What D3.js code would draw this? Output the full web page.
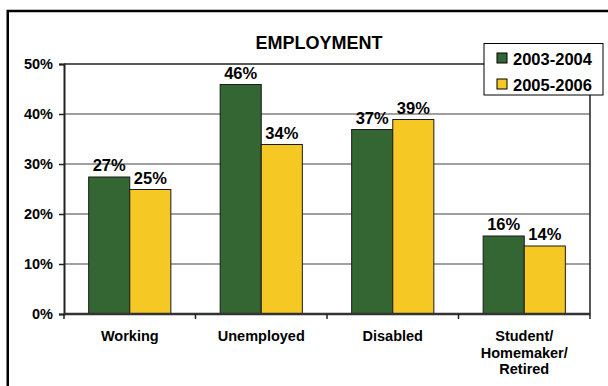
<!DOCTYPE html>
<html>
<head>
<meta charset="utf-8">
<script src="https://cdn.jsdelivr.net/npm/d3@7"></script>
<style>
  html, body { margin: 0; padding: 0; background: #fff; }
  svg { display: block; font-family: "Liberation Sans", Arial, Helvetica, sans-serif; font-weight: bold; }
</style>
</head>
<body>
<svg id="chart" width="608" height="386"></svg>
<script>
// Employment status of respondents, two survey periods (percent)
const categories = ["Working", "Unemployed", "Disabled", "Student/\nHomemaker/\nRetired"];
const seriesNames = ["2003-2004", "2005-2006"];
const values2003 = [27.4, 45.9, 36.9, 15.6];
const values2005 = [24.9, 33.9, 38.9, 13.6];
const yTicks = [0, 10, 20, 30, 40, 50];
const colors = ["#336633", "#F5C823"];

const svg = d3.select("#chart");
const plot = { left: 64, right: 590, top: 64, bottom: 314 };

const x = d3.scaleBand().domain(d3.range(categories.length))
  .range([plot.left, plot.right]).paddingInner(0).paddingOuter(0);
const xs = d3.scaleBand().domain(d3.range(seriesNames.length))
  .range([0, x.bandwidth()]).paddingInner(0).paddingOuter(0.6);
const y = d3.scaleLinear().domain([0, 50]).range([plot.bottom, plot.top]);

// outer frame
svg.append("rect").attr("x", 7.75).attr("y", 11).attr("width", 640).attr("height", 420)
  .attr("fill", "none").attr("stroke", "#000").attr("stroke-width", 2.5);

// title
svg.append("text").attr("x", 319).attr("y", 49).attr("text-anchor", "middle")
  .attr("font-size", 18).attr("fill", "#000").text("EMPLOYMENT");

// horizontal gridlines
svg.append("g").selectAll("line").data(yTicks.filter(t => t > 0 && t < 50)).join("line")
  .attr("x1", plot.left).attr("x2", plot.right)
  .attr("y1", d => y(d)).attr("y2", d => y(d))
  .attr("stroke", "#808080").attr("stroke-width", 1.5);

// plot frame (top and right)
svg.append("path")
  .attr("d", `M${plot.left},${plot.top}H${plot.right}V${plot.bottom}`)
  .attr("fill", "none").attr("stroke", "#222").attr("stroke-width", 1.5);

// bars
const series = [values2003, values2005];
series.forEach((vals, si) => {
  svg.append("g").selectAll("rect").data(vals).join("rect")
    .attr("x", (d, i) => x(i) + xs(si))
    .attr("width", xs.bandwidth())
    .attr("y", d => y(d))
    .attr("height", d => y(0) - y(d))
    .attr("fill", colors[si]).attr("stroke", "#1a1a1a").attr("stroke-width", 1);
});

// value labels
series.forEach((vals, si) => {
  svg.append("g").selectAll("text").data(vals).join("text")
    .attr("x", (d, i) => x(i) + xs(si) + xs.bandwidth() / 2)
    .attr("y", d => y(d) - 6)
    .attr("text-anchor", "middle").attr("font-size", 16.5).attr("fill", "#000")
    .text(d => Math.round(d) + "%");
});

// y axis
const yAxis = svg.append("g").attr("transform", `translate(${plot.left},0)`)
  .call(d3.axisLeft(y).tickValues(yTicks).tickFormat(d => d + "%").tickSize(5).tickPadding(6));
yAxis.select(".domain").attr("stroke", "#222").attr("stroke-width", 2);
yAxis.selectAll(".tick line").attr("stroke", "#222").attr("stroke-width", 1.5);
yAxis.selectAll("text").attr("font-size", 14.5).attr("font-family", null).attr("fill", "#000");

// x axis baseline and category boundary ticks
const bounds = d3.range(categories.length + 1).map(i => plot.left + i * x.step());
svg.append("line").attr("x1", plot.left).attr("x2", plot.right)
  .attr("y1", plot.bottom).attr("y2", plot.bottom)
  .attr("stroke", "#333").attr("stroke-width", 2.5);
svg.append("g").selectAll("line").data(bounds).join("line")
  .attr("x1", d => d).attr("x2", d => d)
  .attr("y1", plot.bottom).attr("y2", plot.bottom + 5)
  .attr("stroke", "#222").attr("stroke-width", 1.5);

// category labels
const cat = svg.append("g").selectAll("text").data(categories).join("text")
  .attr("text-anchor", "middle").attr("font-size", 14.5).attr("fill", "#000")
  .attr("transform", (d, i) => `translate(${x(i) + x.bandwidth() / 2},341)`);
cat.each(function(d) {
  d.split("\n").forEach((line, li) => {
    d3.select(this).append("tspan").attr("x", 0).attr("y", li * 16.7).text(line);
  });
});

// legend
const lg = svg.append("g");
lg.append("rect").attr("x", 484).attr("y", 43.5).attr("width", 119).attr("height", 51.5)
  .attr("fill", "#fff").attr("stroke", "#000").attr("stroke-width", 1);
seriesNames.forEach((name, i) => {
  lg.append("rect").attr("x", 497).attr("y", 53 + i * 26).attr("width", 10).attr("height", 10)
    .attr("fill", colors[i]).attr("stroke", "#000").attr("stroke-width", 1);
  lg.append("text").attr("x", 513).attr("y", 64.5 + i * 26.3)
    .attr("font-size", 16.5).attr("fill", "#000").text(name);
});
</script>
</body>
</html>
